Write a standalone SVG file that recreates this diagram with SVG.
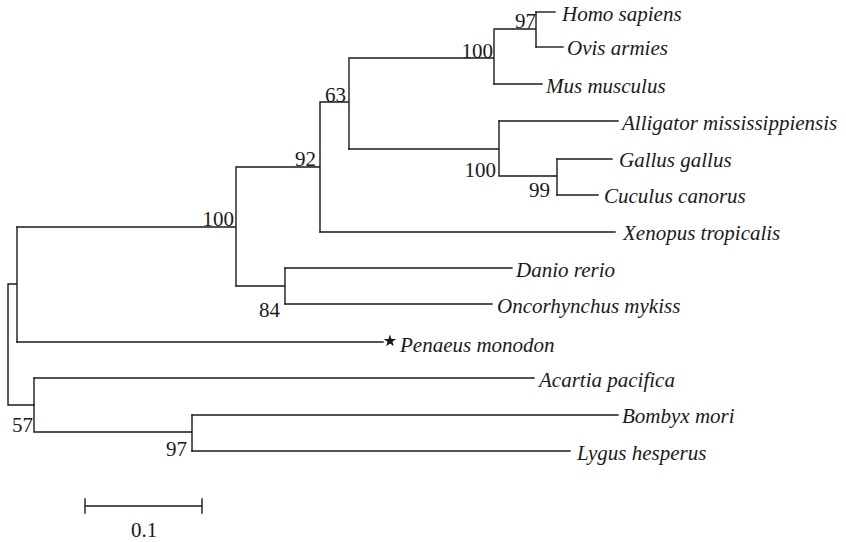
<svg xmlns="http://www.w3.org/2000/svg" width="846" height="542" viewBox="0 0 846 542">
<style>
.br{fill:none;stroke:#1a1a1a;stroke-width:1.4;stroke-linecap:square}
text{font-family:"Liberation Serif",Tinos,"Times New Roman","DejaVu Serif",serif;font-size:21px;fill:#1a1a1a}
.sp{font-style:italic}
.bs{text-anchor:end}
.sc{text-anchor:middle}
</style>
<rect width="846" height="542" fill="#fff"/>
<g id="connectors" class="br">
<path d="M8,284 V405 H34 M8,284 H17 M17,227 V342"/>
<path d="M17,227 H236 M236,167 V286 M236,167 H320 M320,102 V232 M320,102 H349 M349,58 V149 M349,58 H494 M494,29 V84 M494,29 H536 M536,12 V47"/>
<path d="M349,149 H499 M499,121 V176 M499,176 H557 M557,159 V195"/>
<path d="M236,286 H285 M285,268 V304"/>
<path d="M34,378 V432 M34,432 H192 M192,415 V451"/>
</g>
<g id="n-homo"><path class="br" d="M536,12 H555"/><text class="sp" x="562" y="21">Homo sapiens</text></g>
<g id="n-ovis"><path class="br" d="M536,47 H563"/><text class="sp" x="567" y="55">Ovis armies</text></g>
<g id="n-mus"><path class="br" d="M494,84 H542"/><text class="sp" x="546" y="93">Mus musculus</text></g>
<g id="n-alligator"><path class="br" d="M499,121 H618"/><text class="sp" x="622" y="130">Alligator mississippiensis</text></g>
<g id="n-gallus"><path class="br" d="M557,159 H612"/><text class="sp" x="619" y="167">Gallus gallus</text></g>
<g id="n-cuculus"><path class="br" d="M557,195 H598"/><text class="sp" x="604" y="203">Cuculus canorus</text></g>
<g id="n-xenopus"><path class="br" d="M320,232 H615"/><text class="sp" x="623" y="240">Xenopus tropicalis</text></g>
<g id="n-danio"><path class="br" d="M285,268 H512"/><text class="sp" x="516" y="277">Danio rerio</text></g>
<g id="n-oncorhynchus"><path class="br" d="M285,304 H492"/><text class="sp" x="497" y="313">Oncorhynchus mykiss</text></g>
<g id="n-penaeus"><path class="br" d="M17,342 H383"/><polygon fill="#1a1a1a" points="390,334.5 391.53,338.9 396.18,338.99 392.47,341.8 393.82,346.26 390,343.6 386.18,346.26 387.53,341.8 383.82,338.99 388.47,338.9"/><text class="sp" x="400" y="352">Penaeus monodon</text></g>
<g id="n-acartia"><path class="br" d="M34,378 H534"/><text class="sp" x="539" y="387">Acartia pacifica</text></g>
<g id="n-bombyx"><path class="br" d="M192,415 H618"/><text class="sp" x="622" y="423">Bombyx mori</text></g>
<g id="n-lygus"><path class="br" d="M192,451 H570"/><text class="sp" x="577" y="460">Lygus hesperus</text></g>
<g id="b-97a"><text class="bs" x="536" y="28">97</text></g>
<g id="b-100a"><text class="bs" x="493" y="58">100</text></g>
<g id="b-63"><text class="bs" x="346" y="102">63</text></g>
<g id="b-100b"><text class="bs" x="496" y="177">100</text></g>
<g id="b-99"><text class="bs" x="550" y="197">99</text></g>
<g id="b-92"><text class="bs" x="316" y="166">92</text></g>
<g id="b-100c"><text class="bs" x="234" y="226">100</text></g>
<g id="b-84"><text class="bs" x="280" y="317">84</text></g>
<g id="b-57"><text class="bs" x="33" y="432">57</text></g>
<g id="b-97b"><text class="bs" x="187" y="456">97</text></g>
<g id="scale"><path class="br" d="M85,506 H202 M85,499 V513 M202,499 V513"/><text class="sc" x="144" y="537">0.1</text></g>
</svg>
